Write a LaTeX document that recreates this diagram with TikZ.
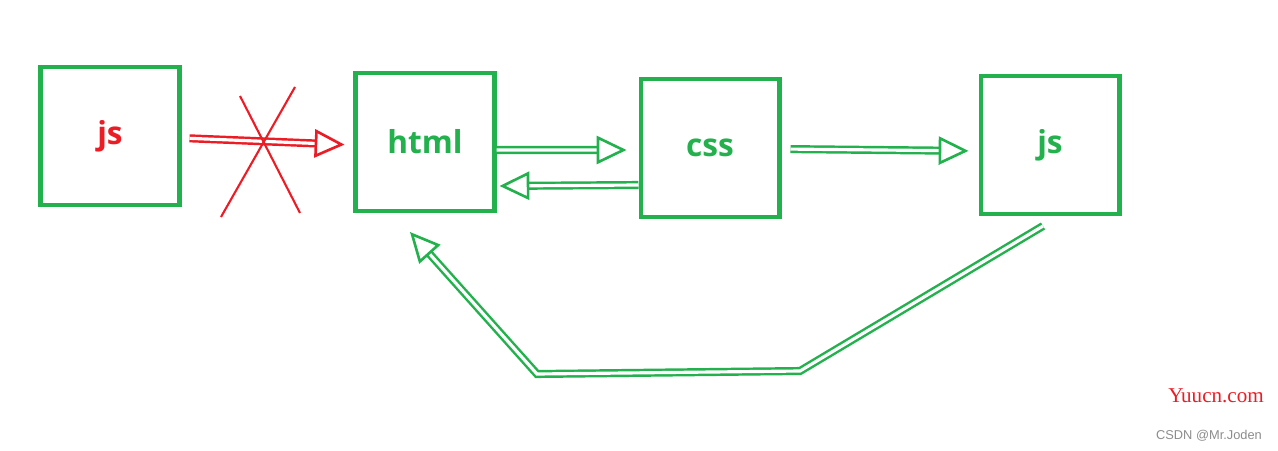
\documentclass[tikz,border=0pt]{standalone}
\usepackage{fontspec}
\usepackage{tikz}
\usetikzlibrary{arrows.meta, positioning, calc}
\newfontfamily\boxfont{Open Sans}
\newfontfamily\markfont{Liberation Serif}
\newfontfamily\tagfont{Liberation Sans}
\definecolor{paintgreen}{HTML}{22B14C}
\definecolor{paintred}{HTML}{ED1C24}
\definecolor{tagtext}{HTML}{8C8C8C}

\begin{document}
\begin{tikzpicture}[
  x=0.02cm, y=-0.02cm,
  every node/.style={font=\boxfont\bfseries\fontsize{18}{20}\selectfont},
  block/.style={draw=paintgreen, line width=2.3pt, fill=white,
                minimum width=2.78cm, minimum height=2.76cm, inner sep=0pt},
  garrow/.style={-{Triangle[open, length=17pt, width=16pt, line width=1.5pt]}, draw=paintgreen,
                 line width=1.4pt, double=white, double distance=1.8pt},
  rarrow/.style={garrow, draw=paintred},
  cross/.style={draw=paintred, line width=1.2pt}
]
  \useasboundingbox (0,0) rectangle (1278,450);

  \node[block, text=paintred] (jsold) at (110,136) {js};
  \node[block, text=paintgreen] (html) at (425,142) {html};
  \node[block, text=paintgreen] (css)  at (710,148) {css};
  \node[block, text=paintgreen] (jsnew) at (1050,145) {js};

  % blocked call
  \draw[rarrow, shorten <=0.16cm, shorten >=0.18cm] ([yshift=-0.04cm]jsold.east) -- ([yshift=-0.06cm]html.west);
  \draw[cross] (240,96) -- (300,213);
  \draw[cross] (295,87) -- (221,217);

  \draw[garrow, shorten >=0.24cm] ([yshift=-0.16cm]html.east) -- ([yshift=-0.04cm]css.west);
  \draw[garrow, shorten >=0.06cm] ([yshift=-0.74cm]css.west) -- ([yshift=-0.88cm]html.east);
  \draw[garrow, shorten <=0.18cm, shorten >=0.2cm] ([yshift=-0.02cm]css.east) -- ([yshift=-0.12cm]jsnew.west);

  % way back
  \coordinate (backA) at (1043,226);
  \coordinate (backB) at (800,371);
  \coordinate (backC) at (537,374);
  \coordinate (backD) at (410,232);
  \draw[garrow] (backA) -- (backB) -- (backC) -- (backD);

  \node[font=\markfont\fontsize{12}{14}\selectfont, text=paintred] (site) at (1216,396) {Yuucn.com};
  \node[font=\tagfont\fontsize{7.3}{9}\selectfont, text=tagtext] (owner) at (1209,436) {CSDN @Mr.Joden};
\end{tikzpicture}
\end{document}
